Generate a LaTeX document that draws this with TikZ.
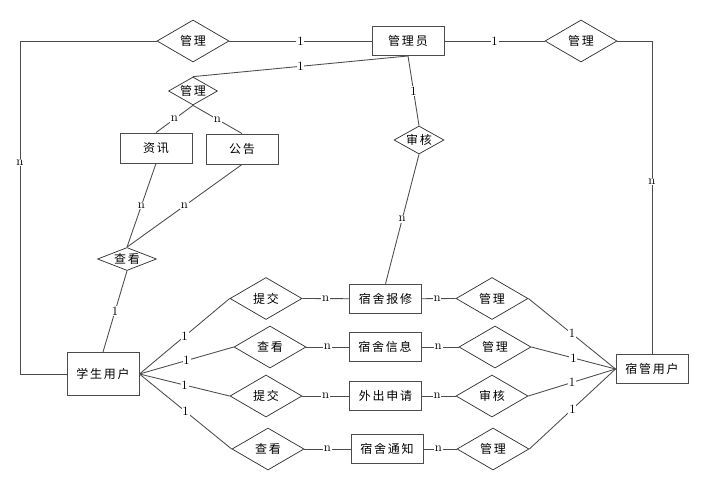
\documentclass[tikz,border=0pt]{standalone}
\usepackage{fontspec}
\newfontfamily\cjk[LetterSpace=15]{Noto Sans CJK SC}
\usetikzlibrary{shapes.geometric}
\begin{document}
\begin{tikzpicture}[x=0.75pt,y=-0.75pt,
  cjkf/.style={font=\cjk\fontsize{9}{10}\selectfont, inner sep=0pt},
  ent/.style={draw=black!70, line width=0.7pt, rectangle, minimum width=54pt, minimum height=21.75pt, inner sep=0pt, cjkf},
  rel/.style={draw=black!80, line width=0.55pt, diamond, minimum width=54pt, minimum height=31.5pt, inner sep=0pt, label={[cjkf]center:#1}},
  conn/.style={draw=black!70, line width=0.65pt},
  lab/.style={fill=white, inner sep=0.6pt, font=\fontsize{9.5}{10}\selectfont}]
\useasboundingbox (0,0) rectangle (706,476);
% entities
\node[ent] (adm) at (408,41) {管理员};
\node[ent, minimum height=22.5pt] (zx) at (156,148) {资讯};
\node[ent, minimum height=22.5pt] (gg) at (242,149) {公告};
\node[ent, minimum height=32.25pt] (stu) at (103,374) {学生用户};
\node[ent] (sg) at (652,369) {宿管用户};
\node[ent] (r1b) at (385.5,298.7) {宿舍报修};
\node[ent] (r2b) at (385,347) {宿舍信息};
\node[ent] (r3b) at (385.5,396) {外出申请};
\node[ent] (r4b) at (387,449) {宿舍通知};
% relations
\node[rel=管理] (tl) at (193,41) {};
\node[rel=管理] (tr) at (581,41) {};
\node[rel=管理, minimum width=36.75pt, minimum height=21pt] (ad) at (193,91) {};
\node[rel=查看, minimum width=44.25pt, minimum height=17.25pt] (ck) at (127,259) {};
\node[rel=审核, minimum width=37.5pt, minimum height=21pt] (sh) at (419,140) {};
\node[rel=提交] (r1a) at (266,298.5) {};
\node[rel=管理] (r1c) at (492,298.5) {};
\node[rel=查看] (r2a) at (270,347) {};
\node[rel=管理] (r2c) at (495,347) {};
\node[rel=提交] (r3a) at (266,396) {};
\node[rel=审核] (r3c) at (492,396) {};
\node[rel=查看] (r4a) at (268,449) {};
\node[rel=管理] (r4c) at (493,449) {};
% corner coordinates
\coordinate (lc) at (20,41);
\coordinate (lb) at (20,374);
% connectors
\draw[conn] (tl.east) -- node[lab]{1} (adm.west);
\draw[conn] (adm.east) -- node[lab]{1} (tr.west);
\draw[conn] (tl.west) -- (lc) -- node[lab,pos=0.366]{n} (lb) -- (stu.west);
\draw[conn] (tr.east) -| node[lab,pos=0.725]{n} (sg.north);
\draw[conn] (ad.north) -- node[lab]{1} (adm.south);
\draw[conn] (ad.south) -- node[lab]{n} (zx.north);
\draw[conn] (ad.south) -- node[lab]{n} (gg.north);
\draw[conn] (zx.south) -- node[lab]{n} (ck.north);
\draw[conn] (gg.south) -- node[lab]{n} (ck.north);
\draw[conn] (ck.south) -- node[lab]{1} (stu.north);
\draw[conn] (adm.south) -- node[lab]{1} (sh.north);
\draw[conn] (sh.south) -- node[lab]{n} (r1b.north);
\foreach \i in {1,2,3,4}{
  \draw[conn] (stu.east) -- node[lab]{1} (r\i a.west);
  \draw[conn] (r\i a.east) -- node[lab]{n} (r\i b.west);
  \draw[conn] (r\i b.east) -- node[lab,pos=0.45]{n} (r\i c.west);
  \draw[conn] (r\i c.east) -- node[lab]{1} (sg.west);
}
\end{tikzpicture}
\end{document}
